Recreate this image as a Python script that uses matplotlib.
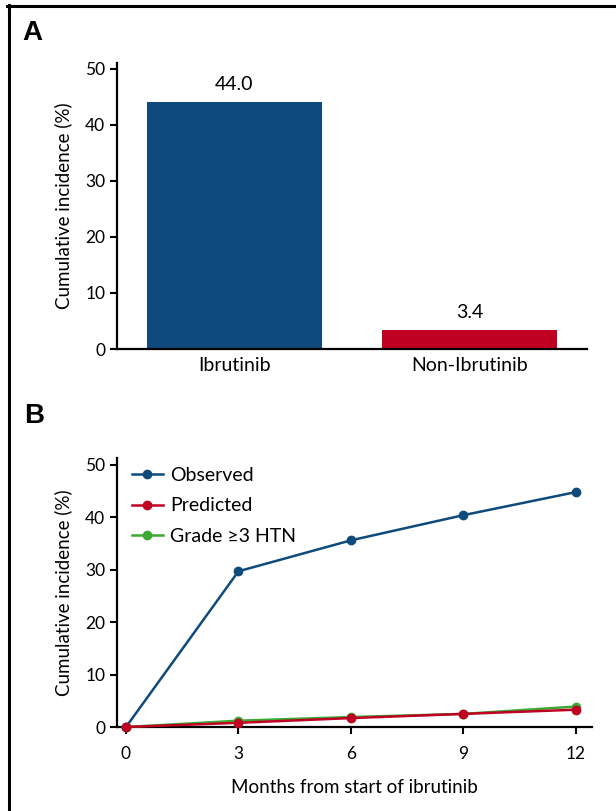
import matplotlib
matplotlib.use("Agg")
from matplotlib import pyplot as plt
from matplotlib.lines import Line2D

## Data
groups = ["Ibrutinib", "Non-Ibrutinib"]
bar_values = [44.0, 3.4]

months = [0, 3, 6, 9, 12]
observed = [0, 29.7, 35.6, 40.4, 44.8]
predicted = [0, 0.8, 1.7, 2.5, 3.3]
grade3_htn = [0, 1.2, 1.9, 2.5, 3.9]

blue = "#0f4a7c"
red = "#c00022"
green = "#3aaa35"

tick_font = ["Lato", "DejaVu Sans"]
label_font = ["Lato", "DejaVu Sans"]

fig = plt.figure(figsize=(6.16, 8.11), dpi=100)

# frame (top and left edges only visible)
fig.add_artist(Line2D([7 / 616, 1], [1 - 6 / 811, 1 - 6 / 811], color="black", lw=2.2))
fig.add_artist(Line2D([9 / 616, 9 / 616], [0, 1 - 5 / 811], color="black", lw=2.2))

fig.text(22 / 616, 1 - 33 / 811, "A", fontsize=20, fontweight="bold",
         family="Liberation Sans", va="center", ha="left")
fig.text(24 / 616, 1 - 416 / 811, "B", fontsize=20, fontweight="bold",
         family="Liberation Sans", va="center", ha="left")

def style_axis(ax):
    for side in ["top", "right"]:
        ax.spines[side].set_visible(False)
    for side in ["left", "bottom"]:
        ax.spines[side].set_linewidth(1.6)
    ax.tick_params(width=1.5, length=5, labelsize=12.5, direction="out")
    for lab in ax.get_xticklabels() + ax.get_yticklabels():
        lab.set_family(tick_font)

##Panel A
axA = fig.add_axes([117 / 616, 1 - 349 / 811, 470 / 616, 286 / 811])
x = range(len(groups))
axA.bar(x, bar_values, width=0.745, color=[blue, red])
for xi, v in zip(x, bar_values):
    axA.text(xi, v + 1.6, f"{v:.1f}", ha="center", va="bottom", fontsize=14, family=tick_font)
axA.set_xlim(-0.5, 1.5)
axA.set_ylim(0, 51)
axA.set_yticks([0, 10, 20, 30, 40, 50])
axA.set_xticks(list(x))
axA.set_xticklabels(groups)
axA.set_ylabel("Cumulative incidence (%)", fontsize=13.5, family=label_font, labelpad=9)
style_axis(axA)
axA.tick_params(axis="x", length=0, pad=6, labelsize=14)

##Panel B
axB = fig.add_axes([117 / 616, 1 - 727 / 811, 475 / 616, 269 / 811])
l_obs, = axB.plot(months, observed, color=blue, lw=1.8, marker="o", markersize=6, label="Observed", zorder=3)
l_gr, = axB.plot(months, grade3_htn, color=green, lw=1.8, marker="o", markersize=6, label="Grade \u22653 HTN", zorder=3)
l_pred, = axB.plot(months, predicted, color=red, lw=1.8, marker="o", markersize=6, label="Predicted", zorder=3)
axB.set_xlim(-0.24, 12.43)
axB.set_ylim(0, 51.3)
axB.set_xticks(months)
axB.set_yticks([0, 10, 20, 30, 40, 50])
axB.set_xlabel("Months from start of ibrutinib", fontsize=13.5, family=label_font, labelpad=12)
axB.set_ylabel("Cumulative incidence (%)", fontsize=13.5, family=label_font, labelpad=9)
style_axis(axB)
axB.tick_params(axis="x", pad=9)
for ln in (l_obs, l_gr, l_pred):
    ln.set_clip_on(False)
axB.legend(handles=[l_obs, l_pred, l_gr], loc="upper left", frameon=False,
           prop={"family": tick_font, "size": 14}, handlelength=1.6,
           handletextpad=0.36, labelspacing=0.68, borderaxespad=0.0,
           bbox_to_anchor=(0.015, 0.995))

fig.savefig("out.png", dpi=100)
